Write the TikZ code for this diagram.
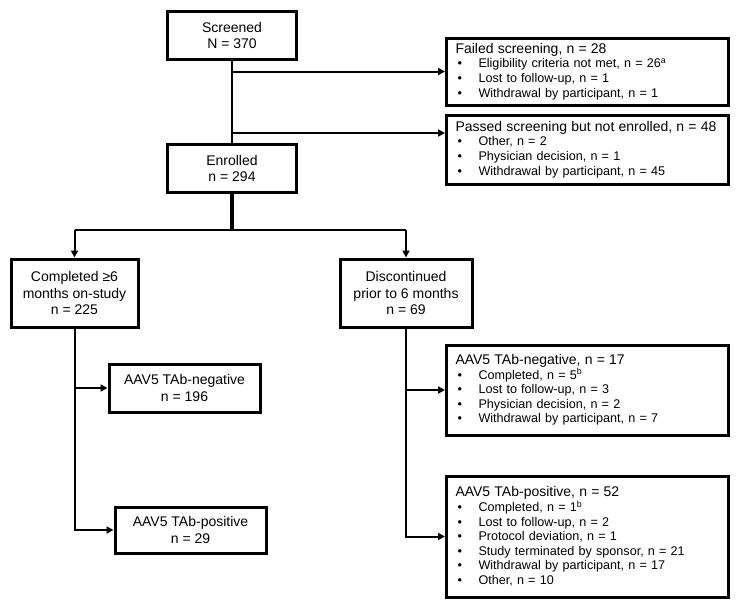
\documentclass[tikz,border=0pt]{standalone}
\usepackage{fontspec}
\setmainfont{Liberation Sans}
\usetikzlibrary{arrows.meta}

\tikzset{
	box/.style={draw, line width=3pt, align=center, inner sep=2pt, font=\fontsize{14}{16.5}\selectfont},
	listbox/.style={draw, line width=3pt, anchor=west, minimum width=282pt, text width=264pt, inner xsep=9pt, align=left, font=\fontsize{12.6}{14.6}\selectfont},
	link/.style={line width=2pt},
	arr/.style={line width=2pt, -{Triangle[length=7pt,width=7pt]}}
}
\newcommand{\itm}[1]{\\\hspace*{2pt}\makebox[21pt][l]{\textbullet}#1}
\newcommand{\ttl}[1]{{\fontsize{14}{14.6}\selectfont #1}}

\begin{document}
\begin{tikzpicture}[x=1pt,y=-1pt]
	\useasboundingbox (0,0) rectangle (743,606);
	\node[box, minimum width=129pt, minimum height=48pt] (screened) at (232,35.5) {Screened\\N = 370};
	\node[box, minimum width=129pt, minimum height=48pt] (enrolled) at (232,168.5) {Enrolled\\n = 294};
	\node[box, minimum width=127pt, minimum height=68pt] (completed) at (74.5,293) {Completed ≥6\\months on-study\\n = 225};
	\node[box, minimum width=132pt, minimum height=68pt] (discont) at (406,293) {Discontinued\\prior to 6 months\\n = 69};
	\node[box, minimum width=151pt, minimum height=48pt] (negA) at (184.5,388) {AAV5 TAb-negative\\n = 196};
	\node[box, minimum width=151pt, minimum height=46pt] (posA) at (190.5,530) {AAV5 TAb-positive\\n = 29};
	\node[listbox, minimum height=67pt] (failed) at (445,71.5) {\ttl{Failed screening, n = 28}\itm{Eligibility criteria not met, n = 26\textsuperscript{a}}\itm{Lost to follow-up, n = 1}\itm{Withdrawal by participant, n = 1}};
	\node[listbox, minimum height=69pt] (passed) at (445,149.5) {\ttl{Passed screening but not enrolled, n = 48}\itm{Other, n = 2}\itm{Physician decision, n = 1}\itm{Withdrawal by participant, n = 45}};
	\node[listbox, minimum height=90pt] (negB) at (445,390) {\ttl{AAV5 TAb-negative, n = 17}\itm{Completed, n = 5\textsuperscript{b}}\itm{Lost to follow-up, n = 3}\itm{Physician decision, n = 2}\itm{Withdrawal by participant, n = 7}};
	\node[listbox, minimum height=121pt] (posB) at (445,536.5) {\ttl{AAV5 TAb-positive, n = 52}\itm{Completed, n = 1\textsuperscript{b}}\itm{Lost to follow-up, n = 2}\itm{Protocol deviation, n = 1}\itm{Study terminated by sponsor, n = 21}\itm{Withdrawal by participant, n = 17}\itm{Other, n = 10}};
	\coordinate (split) at (0,133);
	\coordinate (fork) at (232,230);
	\draw[link] (screened) -- (enrolled);
	\draw[arr] (screened.south |- failed.west) -- (failed.west);
	\draw[arr] (screened.south |- split) -- (passed.west |- split);
	\draw[line width=3.5pt] (enrolled.south) -- (fork);
	\draw[link] (completed.north |- fork) -- (discont.north |- fork);
	\draw[arr] (completed.north |- fork) -- (completed.north);
	\draw[arr] (discont.north |- fork) -- (discont.north);
	\draw[arr] (completed.south) |- (posA.west);
	\draw[arr] (completed.south |- negA.west) -- (negA.west);
	\draw[arr] (discont.south) |- (posB.west);
	\draw[arr] (discont.south |- negB.west) -- (negB.west);
\end{tikzpicture}
\end{document}
